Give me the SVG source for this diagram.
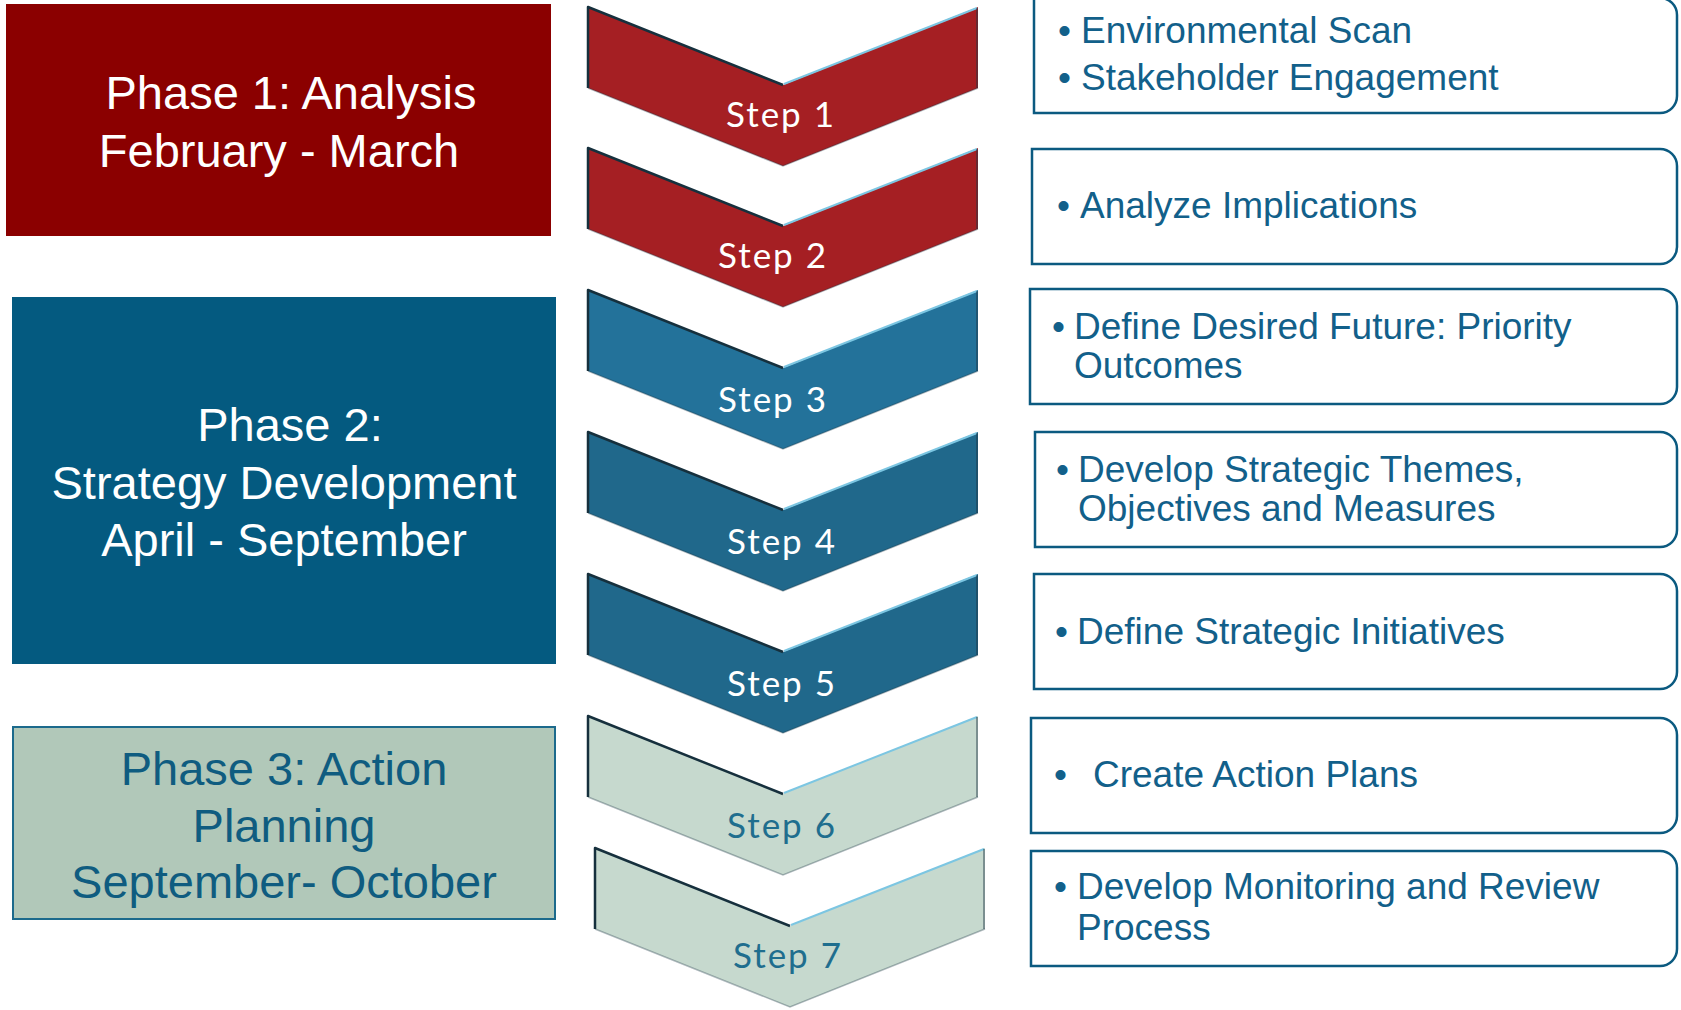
<svg xmlns="http://www.w3.org/2000/svg" width="1681" height="1010" viewBox="0 0 1681 1010">
  <defs>
    <style>
      .phase-text { font-family: "Liberation Sans", Arial, sans-serif; font-size: 47px; text-anchor: middle; }
      .step-text { font-family: Lato, "Noto Sans", sans-serif; font-size: 35px; letter-spacing: 2px; text-anchor: middle; }
      .task-text { font-family: "Liberation Sans", Arial, sans-serif; font-size: 37px; fill: #12608A; }
      .task-box { fill: #FFFFFF; stroke: #0B5A80; stroke-width: 2.5; }
      .edge-dark { fill: none; stroke: #16303D; stroke-width: 2.5; stroke-linejoin: round; }
      .edge-light { fill: none; stroke: #7CC6E2; stroke-width: 2; }
      .red { fill: #A51F23; }
      .blue-a { fill: #23729A; }
      .blue-b { fill: #20688B; }
      .pale { fill: #C6D9CE; }
    </style>
    <!-- one chevron, origin at its top-left corner -->
    <polygon id="chev" points="0,0 195,78 390,0 390,81 195,159 0,81"/>
    <g id="chev-edges">
      <polyline class="edge-dark" points="0,81 0,0 195,78"/>
      <polyline class="edge-light" points="196,77 389,1"/>
      <polyline points="0,81 195,159 390,81" fill="none" stroke="#1E3644" stroke-opacity="0.35" stroke-width="1.5"/>
      <line x1="389" y1="1" x2="389" y2="81" stroke="#1E3644" stroke-opacity="0.45" stroke-width="2"/>
    </g>
  </defs>

  <rect width="1681" height="1010" fill="#FFFFFF"/>

  <!-- phase blocks -->
  <g id="phase1">
    <rect x="6" y="4" width="545" height="232" fill="#8B0000"/>
    <text class="phase-text" x="291" y="109" fill="#FFFFFF">Phase 1: Analysis</text>
    <text class="phase-text" x="279" y="167" fill="#FFFFFF">February - March</text>
  </g>
  <g id="phase2">
    <rect x="12" y="297" width="544" height="367" fill="#045A80"/>
    <text class="phase-text" x="290" y="441" fill="#FFFFFF">Phase 2:</text>
    <text class="phase-text" x="284" y="499" fill="#FFFFFF">Strategy Development</text>
    <text class="phase-text" x="284" y="556" fill="#FFFFFF">April - September</text>
  </g>
  <g id="phase3">
    <rect x="13" y="727" width="542" height="192" fill="#B1C8B9" stroke="#1C6A8C" stroke-width="2"/>
    <text class="phase-text" x="284" y="785" fill="#0F5C80">Phase 3: Action</text>
    <text class="phase-text" x="284" y="842" fill="#0F5C80">Planning</text>
    <text class="phase-text" x="284" y="898" fill="#0F5C80">September- October</text>
  </g>

  <!-- step chevrons -->
  <g id="step1" transform="translate(588,7)">
    <use href="#chev" class="red"/>
    <use href="#chev-edges"/>
    <text class="step-text" x="193" y="120" fill="#FFFFFF">Step 1</text>
  </g>
  <g id="step2" transform="translate(588,148)">
    <use href="#chev" class="red"/>
    <use href="#chev-edges"/>
    <text class="step-text" x="185" y="120" fill="#FFFFFF">Step 2</text>
  </g>
  <g id="step3" transform="translate(588,290)">
    <use href="#chev" class="blue-a"/>
    <use href="#chev-edges"/>
    <text class="step-text" x="185" y="122" fill="#FFFFFF">Step 3</text>
  </g>
  <g id="step4" transform="translate(588,432)">
    <use href="#chev" class="blue-b"/>
    <use href="#chev-edges"/>
    <text class="step-text" x="194" y="122" fill="#FFFFFF">Step 4</text>
  </g>
  <g id="step5" transform="translate(588,574)">
    <use href="#chev" class="blue-b"/>
    <use href="#chev-edges"/>
    <text class="step-text" x="194" y="122" fill="#FFFFFF">Step 5</text>
  </g>
  <g id="step6" transform="translate(588,716)">
    <use href="#chev" class="pale"/>
    <use href="#chev-edges"/>
    <text class="step-text" x="194" y="122" fill="#1F6E8E">Step 6</text>
  </g>
  <g id="step7" transform="translate(595,848)">
    <use href="#chev" class="pale"/>
    <use href="#chev-edges"/>
    <text class="step-text" x="193" y="120" fill="#1F6E8E">Step 7</text>
  </g>

  <!-- task boxes: square left corners, rounded right corners -->
  <g id="task1">
    <path class="task-box" d="M1034,-2 H1660 A17,17 0 0 1 1677,15 V96 A17,17 0 0 1 1660,113 H1034 Z"/>
    <text class="task-text" x="1058" y="43">•</text>
    <text class="task-text" x="1081" y="43">Environmental Scan</text>
    <text class="task-text" x="1058" y="90">•</text>
    <text class="task-text" x="1081" y="90">Stakeholder Engagement</text>
  </g>
  <g id="task2">
    <path class="task-box" d="M1032,149 H1660 A17,17 0 0 1 1677,166 V247 A17,17 0 0 1 1660,264 H1032 Z"/>
    <text class="task-text" x="1057" y="218">•</text>
    <text class="task-text" x="1080" y="218">Analyze Implications</text>
  </g>
  <g id="task3">
    <path class="task-box" d="M1030,289 H1660 A17,17 0 0 1 1677,306 V387 A17,17 0 0 1 1660,404 H1030 Z"/>
    <text class="task-text" x="1052" y="339">•</text>
    <text class="task-text" x="1074" y="339">Define Desired Future: Priority</text>
    <text class="task-text" x="1074" y="378">Outcomes</text>
  </g>
  <g id="task4">
    <path class="task-box" d="M1035,432 H1660 A17,17 0 0 1 1677,449 V530 A17,17 0 0 1 1660,547 H1035 Z"/>
    <text class="task-text" x="1056" y="482">•</text>
    <text class="task-text" x="1078" y="482">Develop Strategic Themes,</text>
    <text class="task-text" x="1078" y="521">Objectives and Measures</text>
  </g>
  <g id="task5">
    <path class="task-box" d="M1034,574 H1660 A17,17 0 0 1 1677,591 V672 A17,17 0 0 1 1660,689 H1034 Z"/>
    <text class="task-text" x="1055" y="644">•</text>
    <text class="task-text" x="1077" y="644">Define Strategic Initiatives</text>
  </g>
  <g id="task6">
    <path class="task-box" d="M1031,718 H1660 A17,17 0 0 1 1677,735 V816 A17,17 0 0 1 1660,833 H1031 Z"/>
    <text class="task-text" x="1054" y="787">•</text>
    <text class="task-text" x="1093" y="787">Create Action Plans</text>
  </g>
  <g id="task7">
    <path class="task-box" d="M1031,851 H1660 A17,17 0 0 1 1677,868 V949 A17,17 0 0 1 1660,966 H1031 Z"/>
    <text class="task-text" x="1054" y="899">•</text>
    <text class="task-text" x="1077" y="899">Develop Monitoring and Review</text>
    <text class="task-text" x="1077" y="940">Process</text>
  </g>

  <!-- no connectors between nodes -->
  <g id="connectors"/>
</svg>
